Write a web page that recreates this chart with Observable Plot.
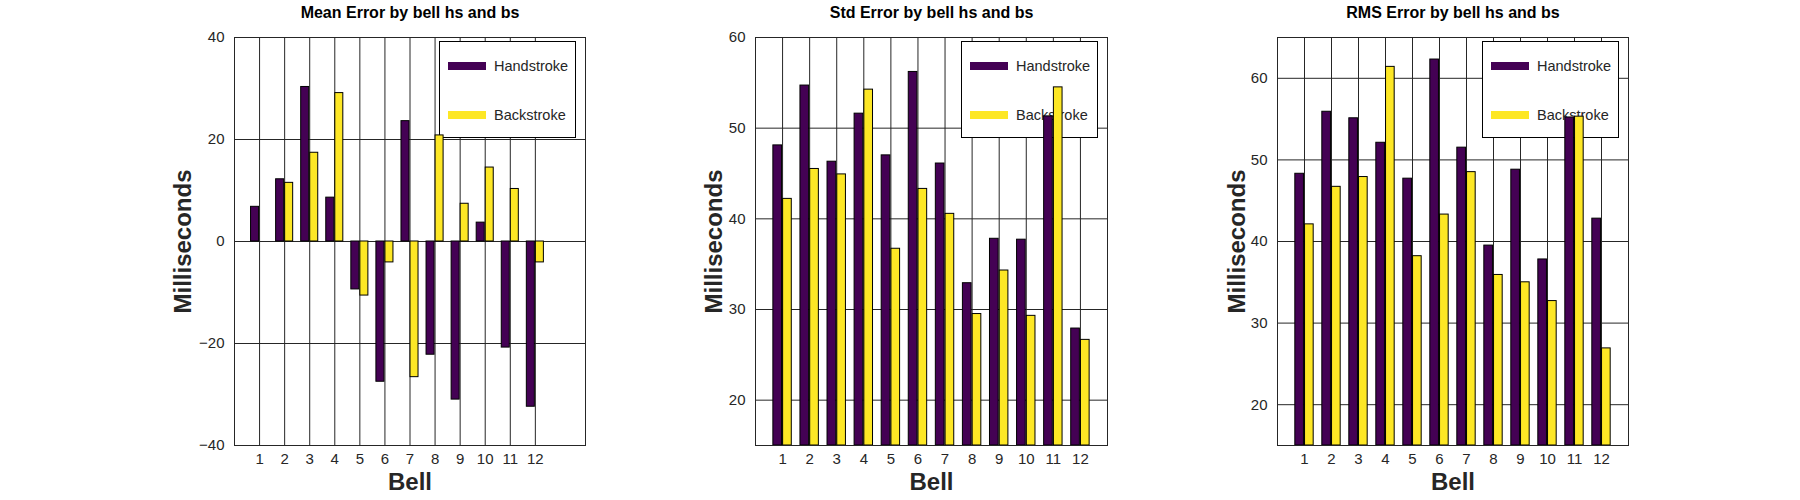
<!DOCTYPE html>
<html>
<head>
<meta charset="utf-8">
<script src="https://cdn.jsdelivr.net/npm/d3@7"></script>
<script src="https://cdn.jsdelivr.net/npm/@observablehq/plot@0.6"></script>
<style>
  html, body { margin: 0; padding: 0; background: #fff; }
  #wrap { position: relative; width: 1800px; height: 500px; overflow: hidden; font-family: "Liberation Sans", Arial, sans-serif; }
  .panel { position: absolute; top: 0; }
  .legend { position: absolute; background: #fff; border: 1px solid #000; box-sizing: border-box; }
  .legend .row { position: absolute; left: 0; display: flex; align-items: center; }
  .legend .sw { width: 38px; height: 8px; margin-left: 8px; margin-right: 8px; }
  .legend .lab { font-size: 14.5px; color: #262626; white-space: nowrap; }
</style>
</head>
<body>
<div id="wrap"></div>
<script>
const bells = [1, 2, 3, 4, 5, 6, 7, 8, 9, 10, 11, 12];
const seriesNames = ["Handstroke", "Backstroke"];
const seriesColors = ["#440154", "#fde725"];

const meanHs = [6.8, 12.2, 30.3, 8.6, -9.4, -27.5, 23.6, -22.2, -31.0, 3.7, -20.8, -32.4];
const meanBs = [0, 11.5, 17.4, 29.1, -10.6, -4.1, -26.6, 20.8, 7.4, 14.5, 10.3, -4.1];
const stdHs = [48.1, 54.7, 46.3, 51.6, 47.0, 56.2, 46.1, 32.9, 37.8, 37.7, 51.3, 27.9];
const stdBs = [42.2, 45.5, 44.9, 54.25, 36.7, 43.3, 40.55, 29.5, 34.3, 29.3, 54.5, 26.65];
const rmsHs = [48.3, 55.9, 55.1, 52.1, 47.7, 62.3, 51.5, 39.5, 48.8, 37.8, 55.2, 42.8];
const rmsBs = [42.1, 46.7, 47.9, 61.4, 38.2, 43.3, 48.5, 35.9, 35.0, 32.7, 55.3, 26.9];

const meanTicks = [-40, -20, 0, 20, 40];
const stdTicks = [20, 30, 40, 50, 60];
const rmsTicks = [20, 30, 40, 50, 60];

const panels = [
  {title: "Mean Error by bell hs and bs", hs: meanHs, bs: meanBs, yDomain: [-40, 40], xDomain: [0, 14], yTicks: meanTicks, base: 0,
   left: 134, axisW: 351, ylabOff: 51},
  {title: "Std Error by bell hs and bs", hs: stdHs, bs: stdBs, yDomain: [15, 60], xDomain: [0, 13], yTicks: stdTicks, base: 15,
   left: 655, axisW: 352, ylabOff: 41},
  {title: "RMS Error by bell hs and bs", hs: rmsHs, bs: rmsBs, yDomain: [15, 65], xDomain: [0, 13], yTicks: rmsTicks, base: 15,
   left: 1177, axisW: 351, ylabOff: 40}
];

const wrap = document.getElementById("wrap");
const mL = 100, mT = 37, mB = 55, W = 511, H = 500;
const ink = "#262626";

function addLayer(el, left) {
  const div = document.createElement("div");
  div.className = "panel";
  div.style.left = left + "px";
  div.appendChild(el);
  wrap.appendChild(div);
}

for (const p of panels) {
  const rows = [];
  bells.forEach((b, i) => {
    rows.push({bell: b, series: seriesNames[0], value: p.hs[i], x1: b - 0.34, x2: b - 0.02});
    rows.push({bell: b, series: seriesNames[1], value: p.bs[i], x1: b + 0.02, x2: b + 0.34});
  });
  const common = {
    width: W, height: H,
    marginLeft: mL, marginRight: W - mL - p.axisW, marginTop: mT, marginBottom: mB,
    style: {fontFamily: "Liberation Sans, Arial, sans-serif", background: "transparent", overflow: "visible"},
    x: {domain: p.xDomain, axis: null},
    y: {domain: p.yDomain, axis: null},
    color: {domain: seriesNames, range: seriesColors}
  };
  // bottom layer: grid, axes, texts
  const base = Plot.plot({
    ...common,
    marks: [
      Plot.gridY(p.yTicks, {stroke: ink, strokeOpacity: 1, strokeWidth: 1}),
      Plot.gridX(bells, {stroke: ink, strokeOpacity: 1, strokeWidth: 1}),
      Plot.axisY(p.yTicks, {tickSize: 0, tickPadding: 10, fontSize: 15, color: ink, label: null}),
      Plot.axisX(bells, {tickSize: 0, tickPadding: 8, fontSize: 15, color: ink, label: null}),
      Plot.text([p.title], {frameAnchor: "top", dy: -25, lineAnchor: "middle", fontSize: 16, fontWeight: "bold", fill: "#000"}),
      Plot.text(["Milliseconds"], {frameAnchor: "left", dx: -p.ylabOff, rotate: -90, textAnchor: "middle", lineAnchor: "middle", fontSize: 24, fontWeight: "bold", fill: ink}),
      Plot.text(["Bell"], {frameAnchor: "bottom", dy: 37, lineAnchor: "middle", fontSize: 24, fontWeight: "bold", fill: ink})
    ]
  });
  addLayer(base, p.left);

  // middle layer: legend box (covers grid, sits under bars)
  const axRight = p.left + mL + p.axisW;
  const lg = document.createElement("div");
  lg.className = "legend";
  lg.style.left = (axRight - 9 - 137) + "px";
  lg.style.top = (mT + 4) + "px";
  lg.style.width = "137px";
  lg.style.height = "97px";
  seriesNames.forEach((name, i) => {
    const r = document.createElement("div");
    r.className = "row";
    r.style.top = (i === 0 ? 14 : 63) + "px";
    r.style.height = "20px";
    const sw = document.createElement("div");
    sw.className = "sw";
    sw.style.background = seriesColors[i];
    const lab = document.createElement("span");
    lab.className = "lab";
    lab.textContent = name;
    r.appendChild(sw); r.appendChild(lab);
    lg.appendChild(r);
  });
  wrap.appendChild(lg);

  // top layer: bars and frame
  const top = Plot.plot({
    ...common,
    marks: [
      Plot.rectY(rows, {x1: "x1", x2: "x2", y1: p.base, y2: "value", fill: "series", stroke: "#000", strokeWidth: 1}),
      Plot.frame({stroke: ink, strokeWidth: 1})
    ]
  });
  addLayer(top, p.left);
}
</script>
</body>
</html>
